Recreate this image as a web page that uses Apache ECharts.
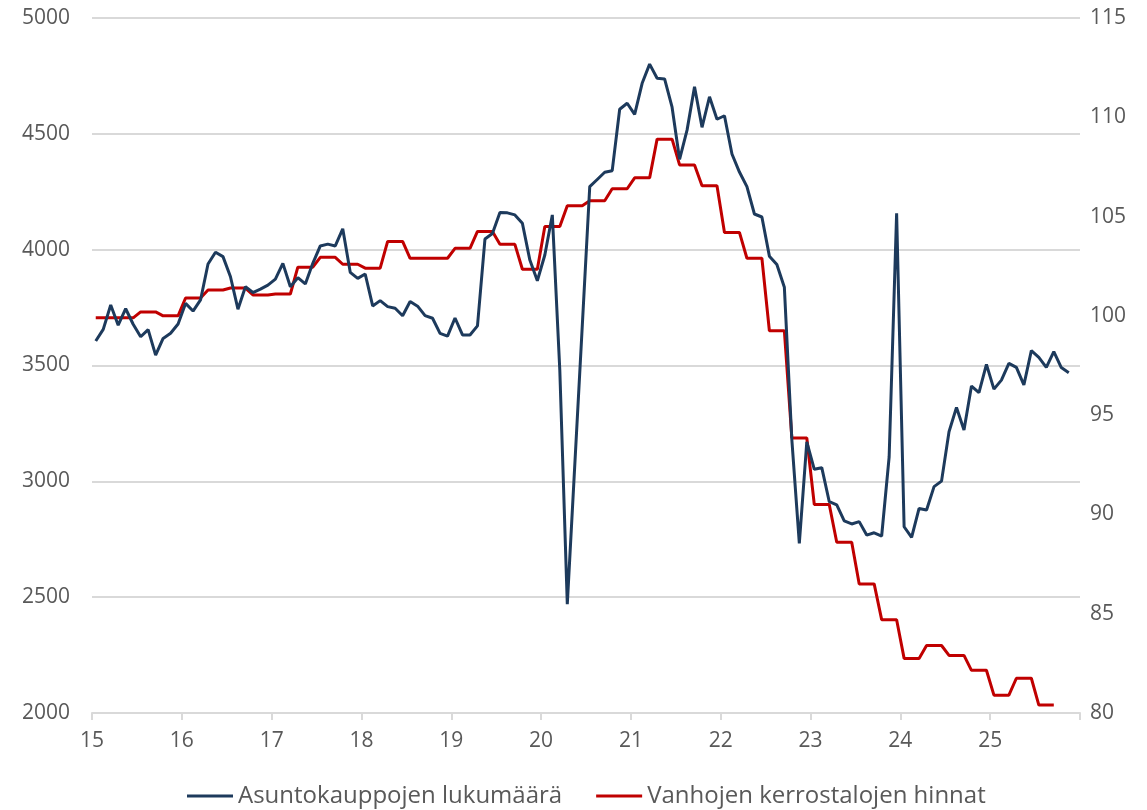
<!DOCTYPE html>
<html>
<head>
<meta charset="utf-8">
<script src="https://cdn.jsdelivr.net/npm/echarts@6/dist/echarts.min.js"></script>
<style>
  html, body { margin: 0; padding: 0; background: #ffffff; }
  #chart { width: 1147px; height: 810px; }
</style>
</head>
<body>
<div id="chart"></div>
<script>
// x-akselin vuosimerkinnät (tammikuu 2015 = 0, kuukausina)
var yearLabels = ['15', '16', '17', '18', '19', '20', '21', '22', '23', '24', '25'];

// Asuntokauppojen lukumäärä, kuukausittain 1/2015 - 11/2025
var kaupat = [
  3606, 3656, 3761, 3674, 3745, 3678, 3624, 3655, 3545, 3617, 3639, 3679,
  3768, 3735, 3783, 3938, 3989, 3970, 3883, 3743, 3840, 3815, 3830, 3847,
  3873, 3941, 3840, 3879, 3852, 3941, 4016, 4024, 4016, 4090, 3902, 3876,
  3895, 3757, 3780, 3754, 3747, 3715, 3776, 3756, 3715, 3704, 3639, 3627,
  3705, 3632, 3632, 3671, 4046, 4070, 4160, 4159, 4150, 4114, 3955, 3866,
  3977, 4150, 3480, 2470, 3070, 3670, 4272, 4303, 4334, 4341, 4606, 4632,
  4584, 4718, 4801, 4740, 4737, 4615, 4390, 4516, 4703, 4528, 4660, 4563,
  4578, 4413, 4335, 4272, 4154, 4141, 3972, 3936, 3838, 3180, 2732, 3170,
  3052, 3059, 2912, 2898, 2829, 2816, 2826, 2768, 2778, 2764, 3105, 4157,
  2804, 2758, 2883, 2876, 2977, 3001, 3214, 3319, 3222, 3411, 3383, 3505,
  3398, 3437, 3509, 3492, 3416, 3564, 3535, 3492, 3560, 3491, 3469
];

// Vanhojen kerrostalojen hinnat, neljännesvuosittain 2015Q1 - 2025Q3
var hinnat = [
  99.9, 99.9, 100.2, 100.0,
  100.9, 101.3, 101.4, 101.05,
  101.1, 102.45, 102.95, 102.6,
  102.4, 103.75, 102.9, 102.9,
  103.4, 104.25, 103.6, 102.35,
  104.5, 105.55, 105.8, 106.4,
  106.95, 108.9, 107.6, 106.55,
  104.2, 102.9, 99.25, 93.85,
  90.5, 88.6, 86.5, 84.7,
  82.75, 83.4, 82.9, 82.15,
  80.9, 81.75, 80.4
];

var kaupatData = kaupat.map(function (v, i) { return [i + 0.5, v]; });
var hinnatData = [];
hinnat.forEach(function (v, q) {
  for (var m = 0; m < 3; m++) {
    hinnatData.push([q * 3 + m + 0.5, v]);
  }
});

var chart = echarts.init(document.getElementById('chart'));

var option = {
  backgroundColor: '#ffffff',
  animation: false,
  textStyle: { fontFamily: 'Open Sans' },
  grid: { left: 92, right: 67, top: 18, bottom: 97 },
  legend: {
    top: 779,
    left: 182,
    icon: 'rect',
    itemWidth: 46,
    itemHeight: 3,
    itemGap: 34,
    textStyle: { color: '#595959', fontSize: 24, fontFamily: 'Open Sans' },
    data: ['Asuntokauppojen lukumäärä', 'Vanhojen kerrostalojen hinnat']
  },
  xAxis: {
    type: 'value',
    min: 0,
    max: 132,
    interval: 12,
    axisLine: { show: true, lineStyle: { color: '#d9d9d9', width: 2 } },
    axisTick: { show: true, length: 7, lineStyle: { color: '#d9d9d9', width: 2 } },
    splitLine: { show: false },
    axisLabel: {
      color: '#595959',
      fontSize: 21,
      margin: 18,
      showMaxLabel: true,
      formatter: function (v) {
        var k = Math.round(v / 12);
        return yearLabels[k] || '';
      }
    }
  },
  yAxis: [
    {
      type: 'value',
      min: 2000,
      max: 5000,
      interval: 500,
      axisLine: { show: false },
      axisTick: { show: false },
      splitLine: { lineStyle: { color: '#d9d9d9', width: 2 } },
      axisLabel: { color: '#595959', fontSize: 21, margin: 22, formatter: function (v) { return String(v); } }
    },
    {
      type: 'value',
      min: 80,
      max: 115,
      interval: 5,
      axisLine: { show: false },
      axisTick: { show: false },
      splitLine: { show: false },
      axisLabel: { color: '#595959', fontSize: 21, margin: 10, formatter: function (v) { return String(v); } }
    }
  ],
  series: [
    {
      name: 'Asuntokauppojen lukumäärä',
      type: 'line',
      yAxisIndex: 0,
      data: kaupatData,
      showSymbol: false,
      symbol: 'none',
      lineStyle: { color: '#1d3a5c', width: 3 },
      itemStyle: { color: '#1d3a5c' },
      z: 3
    },
    {
      name: 'Vanhojen kerrostalojen hinnat',
      type: 'line',
      yAxisIndex: 1,
      data: hinnatData,
      showSymbol: false,
      symbol: 'none',
      lineStyle: { color: '#c00000', width: 3 },
      itemStyle: { color: '#c00000' },
      z: 2
    }
  ]
};

chart.setOption(option);
</script>
</body>
</html>
